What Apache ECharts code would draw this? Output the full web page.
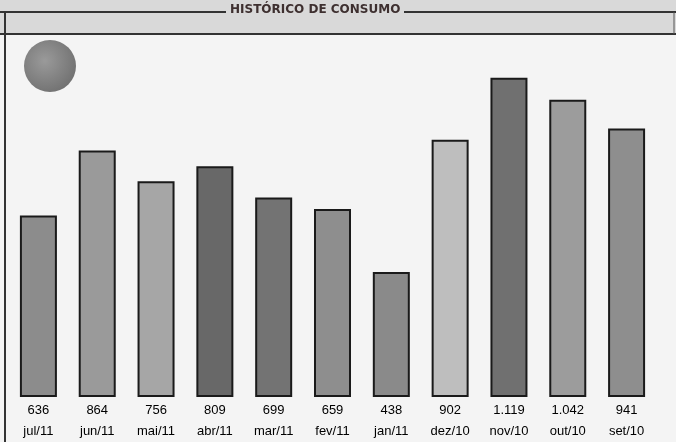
<!DOCTYPE html>
<html><head><meta charset="utf-8">
<script src="https://cdn.jsdelivr.net/npm/echarts@6/dist/echarts.min.js"></script>
<style>html,body{margin:0;padding:0;background:#f3f3f3}#c{width:676px;height:442px}</style>
</head><body><div id="c"></div>
<script>
const title = 'HISTÓRICO DE CONSUMO';
const months = ['jul/11','jun/11','mai/11','abr/11','mar/11','fev/11','jan/11','dez/10','nov/10','out/10','set/10'];
const values = [636, 864, 756, 809, 699, 659, 438, 902, 1119, 1042, 941];
const valueLabels = ['636','864','756','809','699','659','438','902','1.119','1.042','941'];
const barColors = ['#8c8c8c','#9a9a9a','#a6a6a6','#686868','#737373','#8e8e8e','#8a8a8a','#bebebe','#707070','#9c9c9c','#8e8e8e'];

const chart = echarts.init(document.getElementById('c'));
chart.setOption({
  backgroundColor: '#f4f4f4',
  animation: false,
  graphic: [
    {type:'rect', shape:{x:0,y:0,width:676,height:34}, style:{fill:'#d9d9d9'}, z:0},
    {type:'line', shape:{x1:0,y1:12,x2:676,y2:12}, style:{stroke:'#333',lineWidth:2}, z:1},
    {type:'line', shape:{x1:0,y1:34,x2:676,y2:34}, style:{stroke:'#333',lineWidth:2}, z:1},
    {type:'line', shape:{x1:5,y1:12,x2:5,y2:442}, style:{stroke:'#333',lineWidth:2}, z:1},
    {type:'line', shape:{x1:674,y1:12,x2:674,y2:34}, style:{stroke:'#555',lineWidth:1}, z:1},
    {type:'rect', shape:{x:226,y:4,width:178,height:16}, style:{fill:'#d9d9d9'}, z:2},
    {type:'text', left:230, top:4, style:{text:title, font:'bold 12px "DejaVu Sans"', fill:'#3e3030'}, z:3},
    {type:'circle', shape:{cx:50,cy:66,r:26}, style:{fill:new echarts.graphic.RadialGradient(0.4,0.4,0.7,[{offset:0,color:'#9a9a9a'},{offset:1,color:'#6e6e6e'}])}, z:3}
  ],
  grid: {left: 9, right: 20, top: 54.7, bottom: 42},
  xAxis: {
    type: 'category',
    data: months,
    axisLine: {show:false}, axisTick: {show:false},
    axisLabel: {
      margin: 3, interval: 0,
      formatter: (v, i) => valueLabels[i] + '\n' + v,
      fontFamily: '"Liberation Sans", Arial, sans-serif', fontSize: 13, lineHeight: 21, color: '#000'
    }
  },
  yAxis: {type:'value', min:0, max:1200, show:false, splitLine:{show:false}},
  series: [{
    type: 'bar',
    barWidth: 37,
    data: values.map((v,i)=>({value:v, itemStyle:{color:barColors[i]}})),
    itemStyle: {borderColor:'#1a1a1a', borderWidth:2}
  }]
});
</script></body></html>
